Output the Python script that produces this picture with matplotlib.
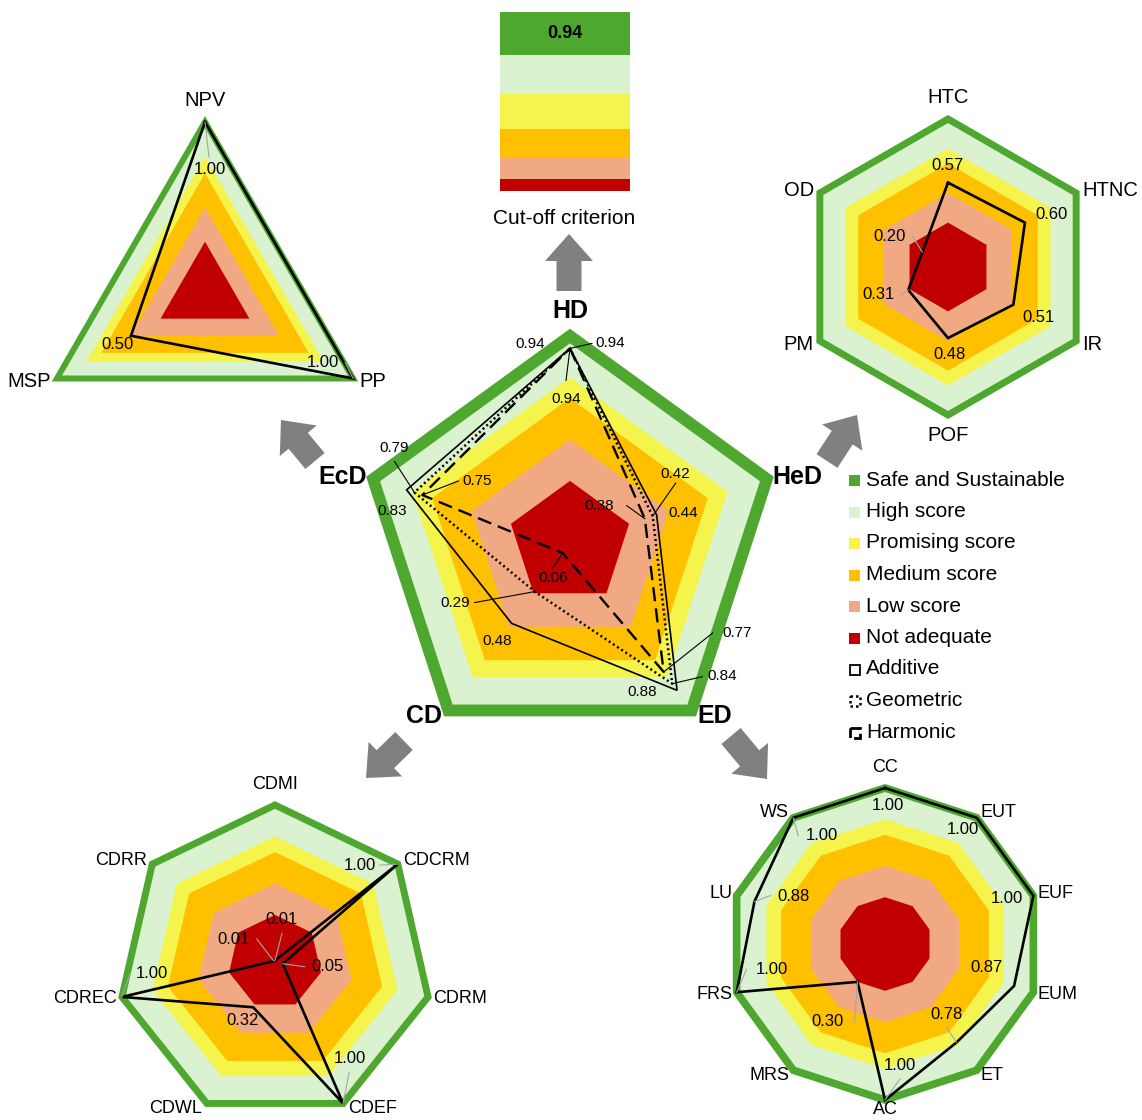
import numpy as np
import matplotlib.pyplot as plt
from matplotlib.patches import Polygon, FancyArrow, Rectangle

plt.rcParams['font.family'] = ['Liberation Sans', 'DejaVu Sans']

# score bands: outer edge of each band (fraction of axis), outer -> inner
band_edges = [1.0, 0.8, 0.7, 0.5, 0.3]
band_colors = ['#DAF2D0', '#F4F44D', '#FFC000', '#F1A983', '#C00000']
safe_green = '#4EA72E'
legend_names = ['Safe and Sustainable', 'High score', 'Promising score',
                'Medium score', 'Low score', 'Not adequate']

# aggregated dimensions (central pentagon)
dims = ['HD', 'HeD', 'ED', 'CD', 'EcD']
additive = [0.94, 0.44, 0.88, 0.48, 0.83]
geometric = [0.94, 0.42, 0.84, 0.29, 0.79]
harmonic = [0.94, 0.38, 0.77, 0.06, 0.75]

# economic dimension
ecd_axes = ['NPV', 'PP', 'MSP']
ecd_vals = [1.00, 1.00, 0.50]

# health dimension
hed_axes = ['HTC', 'HTNC', 'IR', 'POF', 'PM', 'OD']
hed_vals = [0.57, 0.60, 0.51, 0.48, 0.31, 0.20]

# circularity dimension
cd_axes = ['CDMI', 'CDCRM', 'CDRM', 'CDEF', 'CDWL', 'CDREC', 'CDRR']
cd_vals = [0.01, 1.00, 0.05, 1.00, 0.32, 1.00, 0.01]

# environmental dimension
ed_axes = ['CC', 'EUT', 'EUF', 'EUM', 'ET', 'AC', 'MRS', 'FRS', 'LU', 'WS']
ed_vals = [1.00, 1.00, 1.00, 0.87, 0.78, 1.00, 0.30, 1.00, 0.88, 1.00]

cutoff = 0.94

fig = plt.figure(figsize=(11.42, 11.2), dpi=100)
ax = fig.add_axes([0, 0, 1, 1])
ax.set_xlim(0, 1142)
ax.set_ylim(1120, 0)
ax.axis('off')


def vertices(cx, cy, R, vals):
    vals = np.asarray(vals, dtype=float)
    ang = np.pi / 2 - 2 * np.pi * np.arange(len(vals)) / len(vals)
    return cx + R * vals * np.cos(ang), cy - R * vals * np.sin(ang)


def frame(cx, cy, R, n, green_lw):
    for edge, col in zip(band_edges, band_colors):
        x, y = vertices(cx, cy, R, [edge] * n)
        ax.add_patch(Polygon(np.column_stack([x, y]), closed=True,
                             facecolor=col, edgecolor='none', zorder=1))
    x, y = vertices(cx, cy, R, [1.0] * n)
    ax.add_patch(Polygon(np.column_stack([x, y]), closed=True, fill=False,
                         edgecolor=safe_green, lw=green_lw,
                         joinstyle='miter', zorder=2))


def profile(cx, cy, R, vals, **kw):
    x, y = vertices(cx, cy, R, vals)
    ax.plot(np.append(x, x[0]), np.append(y, y[0]), zorder=4,
            solid_joinstyle='miter', **kw)


def axis_names(cx, cy, R, names, fs, gap=6, top_gap=12, bot_gap=9,
               dy=6, **kw):
    n = len(names)
    for i, name in enumerate(names):
        a = np.pi / 2 - 2 * np.pi * i / n
        c, s = np.cos(a), np.sin(a)
        vx, vy = cx + R * c, cy - R * s
        if abs(c) < 0.1:
            if s > 0:
                ax.text(vx, vy - top_gap, name, ha='center', va='bottom',
                        fontsize=fs, **kw)
            else:
                ax.text(vx, vy + bot_gap, name, ha='center', va='top',
                        fontsize=fs, **kw)
        else:
            ax.text(vx + np.sign(c) * gap, vy - s * dy, name,
                    ha='left' if c > 0 else 'right', va='center',
                    fontsize=fs, **kw)


def value_labels(cx, cy, R, vals, offsets, leaders, fs, lead_col):
    x, y = vertices(cx, cy, R, vals)
    for xi, yi, v, (dx, dy), ld in zip(x, y, vals, offsets, leaders):
        if ld is not None:
            ax.plot([xi + ld[0], xi], [yi + ld[1], yi], color=lead_col,
                    lw=0.8, zorder=5)
        ax.text(xi + dx, yi + dy, f'{v:.2f}', ha='center', va='center',
                fontsize=fs, zorder=6)


# ---- central pentagon ----
pcx, pcy, pR = 570, 543, 207
frame(pcx, pcy, pR, 5, 8.5)
profile(pcx, pcy, pR, additive, color='black', lw=1.2)
profile(pcx, pcy, pR, geometric, color='black', lw=1.8,
        linestyle=(0, (0.8, 1.2)))
profile(pcx, pcy, pR, harmonic, color='black', lw=1.7,
        linestyle=(0, (6, 3)))
value_labels(pcx, pcy, pR, additive,
             [(-40, -4), (27, -2), (-35, 2), (-14, 18), (-14, 21)],
             [None] * 5, 11, 'black')
value_labels(pcx, pcy, pR, geometric,
             [(40, -5), (23, -42), (50, -8), (-80, 11), (-20, -44)],
             [(22, -5), (23, -33), (30, -7), (-60, 11), (-20, -31)],
             11, 'black')
value_labels(pcx, pcy, pR, harmonic,
             [(-4, 51), (-46, -13), (73, -39), (-10, 25), (55, -14)],
             [(-4, 32), (-18, -13), (49, -39), (-10, 15), (36, -14)],
             11, 'black')
axis_names(pcx, pcy, pR, dims, 18, gap=6, top_gap=13, dy=7,
           fontweight='bold')

# ---- economic triangle ----
tcx, tcy, tR = 205, 293, 171
frame(tcx, tcy, tR, 3, 4.3)
profile(tcx, tcy, tR, ecd_vals, color='black', lw=1.9)
value_labels(tcx, tcy, tR, ecd_vals, [(5, 48), (-30, -16), (-13, 9)],
             [(4, 35), (-8, -16), None], 12, '#A6A6A6')
axis_names(tcx, tcy, tR, ecd_axes, 14.5, gap=6)

# ---- health hexagon ----
hcx, hcy, hR = 948, 267, 148
frame(hcx, hcy, hR, 6, 5)
profile(hcx, hcy, hR, hed_vals, color='black', lw=1.9)
value_labels(hcx, hcy, hR, hed_vals,
             [(0, -17), (27, -8), (25, 13), (1, 16), (-30, 5), (-33, -16)],
             [None, None, None, None, (-8, 5), (-10, -16)], 12, '#A6A6A6')
axis_names(hcx, hcy, hR, hed_axes, 14.5, gap=6, bot_gap=11)

# ---- circularity heptagon ----
ccx, ccy, cR = 275, 962, 157
frame(ccx, ccy, cR, 7, 5)
profile(ccx, ccy, cR, cd_vals, color='black', lw=1.9)
value_labels(ccx, ccy, cR, cd_vals,
             [(7, -41), (-38, 1), (45, 3), (7, -45), (-11, 13), (30, -23),
              (-40, -22)],
             [(7, -27), (-18, 1), (22, 3), (6, -31), None, (8, -23),
              (-17, -22)], 12, '#A6A6A6')
axis_names(ccx, ccy, cR, cd_axes, 13, gap=5)

# ---- environmental decagon ----
ecx, ecy, eR = 885, 944, 156
frame(ecx, ecy, eR, 10, 5.5)
profile(ecx, ecy, eR, ed_vals, color='black', lw=1.9)
value_labels(ecx, ecy, eR, ed_vals,
             [(3, 17), (-14, 12), (-26, 3), (-28, -18), (-10, -28),
              (15, -35), (-30, 40), (35, -23), (39, -5), (29, 18)],
             [None, None, None, None, (-10, -15), (15, -21), (-3, 40),
              (10, -23), (16, -6), (5, 18)], 12, '#A6A6A6')
axis_names(ecx, ecy, eR, ed_axes, 13, gap=4, bot_gap=1)

# ---- cut-off criterion stack ----
cut_heights = [12, 21, 29, 35, 39, 43]
cut_colors = band_colors[::-1] + [safe_green]
base = 191
for h, col in zip(cut_heights, cut_colors):
    ax.bar(565, -h, bottom=base, width=130, color=col, lw=0)
    base -= h
ax.text(565, 191 - sum(cut_heights) + 22, f'{cutoff:.2f}', ha='center',
        va='center', fontsize=13, fontweight='bold')
ax.text(564, 218, 'Cut-off criterion', ha='center', va='center',
        fontsize=15)

# ---- grey arrows from the pentagon to each dimension ----
arrows = [((569, 291), (569, 234)), ((315, 461), (281, 420)),
          ((827, 461), (857, 415)), ((404, 741), (366, 778)),
          ((731, 736), (767, 779))]
for (x0, y0), (x1, y1) in arrows:
    ax.add_patch(FancyArrow(x0, y0, x1 - x0, y1 - y0, width=25,
                            head_width=48, head_length=27,
                            length_includes_head=True, color='#808080',
                            lw=0, zorder=3))

# ---- legend ----
ly0, lstep = 480, 31.5
for i, (name, col) in enumerate(zip(legend_names,
                                    [safe_green] + band_colors)):
    y = ly0 + i * lstep
    ax.add_patch(Rectangle((849, y - 5), 11, 11, facecolor=col, lw=0))
    ax.text(866, y, name, va='center', fontsize=15)
for j, (name, ls, lw) in enumerate([('Additive', '-', 1.3),
                                    ('Geometric', (0, (1, 1.2)), 1.8),
                                    ('Harmonic', (0, (4, 1.5)), 2.0)]):
    y = ly0 + (6 + j) * lstep
    ax.add_patch(Rectangle((849.5, y - 4.5), 10, 10, fill=False,
                           edgecolor='black', lw=lw, linestyle=ls))
    ax.text(866, y, name, va='center', fontsize=15)

fig.savefig('out.png', dpi=100)
